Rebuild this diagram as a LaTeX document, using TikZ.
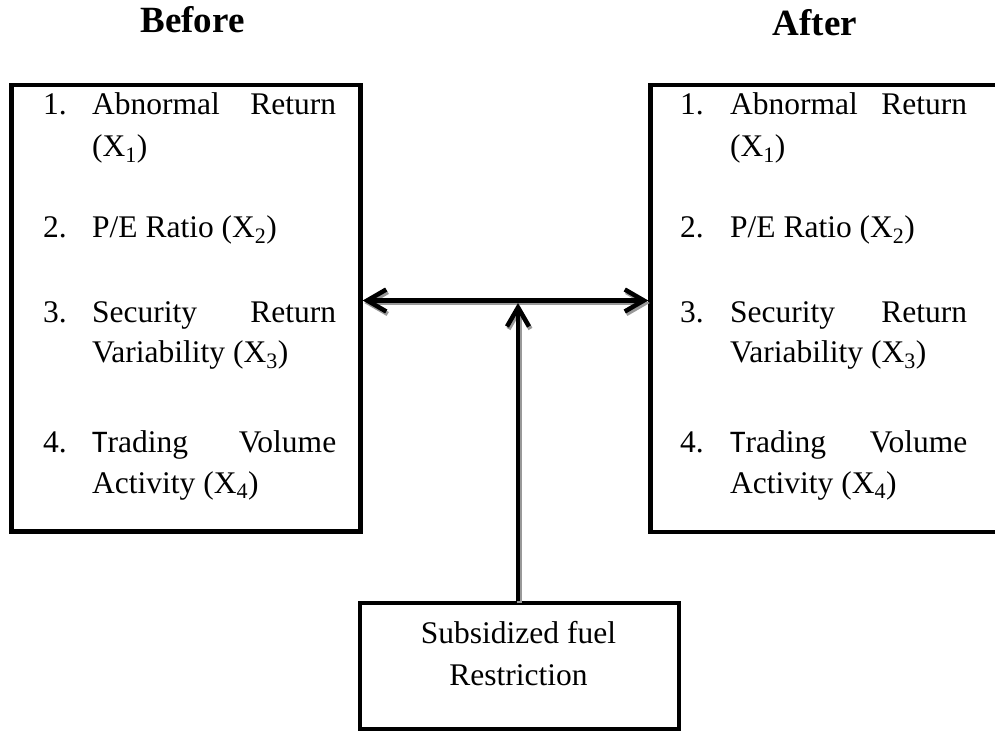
\documentclass[tikz,border=0pt]{standalone}
\usepackage{fontspec}
\setmainfont{Liberation Serif}
\newfontfamily\capfont{Carlito}
\usetikzlibrary{arrows.meta}

\tikzset{
  box/.style = {draw, rectangle, line width=4.5pt, inner sep=0pt},
  entry/.style = {anchor=base west, inner sep=0pt, font=\fontsize{31.5}{41}\selectfont},
  label/.style = {anchor=base, inner sep=0pt, font=\fontsize{31.5}{41}\selectfont},
  title/.style = {anchor=base, inner sep=0pt, font=\fontsize{37}{44}\selectfont\bfseries},
  conn/.style = {line width=4.5pt, arrows={-Straight Barb[length=19pt,width=22pt]}},
  twoway/.style = {line width=4.5pt, arrows={Straight Barb[length=19pt,width=22pt]-Straight Barb[length=19pt,width=22pt]}},
  shade/.style = {draw=black!40, transform canvas={shift={(1.5pt,-2.5pt)}}}
}

\begin{document}
\begin{tikzpicture}[x=1pt, y=-1pt]
\useasboundingbox (0,0) rectangle (995,733);

% headings
\node[title] (before-title) at (192.5,33) {Before};
\node[title] (after-title) at (815,36) {After};

% the three boxes
\node[box, minimum width=349pt, minimum height=446.5pt] (before) at (186,308.25) {};
\node[box, minimum width=400pt, minimum height=447pt] (after) at (850.5,308.5) {};
\node[box, minimum width=319pt, minimum height=126pt] (fuel) at (519.5,666) {};
\node[label] (fuel-l1) at (518.5,643) {Subsidized fuel};
\node[label] (fuel-l2) at (518.5,685) {Restriction};

% variables in both boxes
\foreach \b/\nx/\tx/\w in {before/43/92/244, after/680/730/237}{
  \node[entry] (\b-n1) at (\nx,115) {1.};
  \node[entry] (\b-t1) at (\tx,115) {\makebox[\w pt][s]{Abnormal Return}};
  \node[entry] (\b-u1) at (\tx,157) {(X\textsubscript{1})};
  \node[entry] (\b-n2) at (\nx,237) {2.};
  \node[entry] (\b-t2) at (\tx,237) {P/E Ratio (X\textsubscript{2})};
  \node[entry] (\b-n3) at (\nx,322) {3.};
  \node[entry] (\b-t3) at (\tx,322) {\makebox[\w pt][s]{Security Return}};
  \node[entry] (\b-u3) at (\tx,362) {Variability (X\textsubscript{3})};
  \node[entry] (\b-n4) at (\nx,452) {4.};
  \node[entry] (\b-t4) at (\tx,452) {\makebox[\w pt][s]{{\capfont T}rading Volume}};
  \node[entry] (\b-u4) at (\tx,493) {Activity (X\textsubscript{4})};
}

\coordinate (mid) at (518,300.5);
\coordinate (hit) at (518,303);

% shadows, then arrows
\draw[twoway, shade] (before.east |- mid) -- (after.west |- mid);
\draw[conn, shade] (fuel.north -| hit) -- (hit);
\draw[twoway] (before.east |- mid) -- (after.west |- mid);
\draw[conn] (fuel.north -| hit) -- (hit);
\end{tikzpicture}
\end{document}
